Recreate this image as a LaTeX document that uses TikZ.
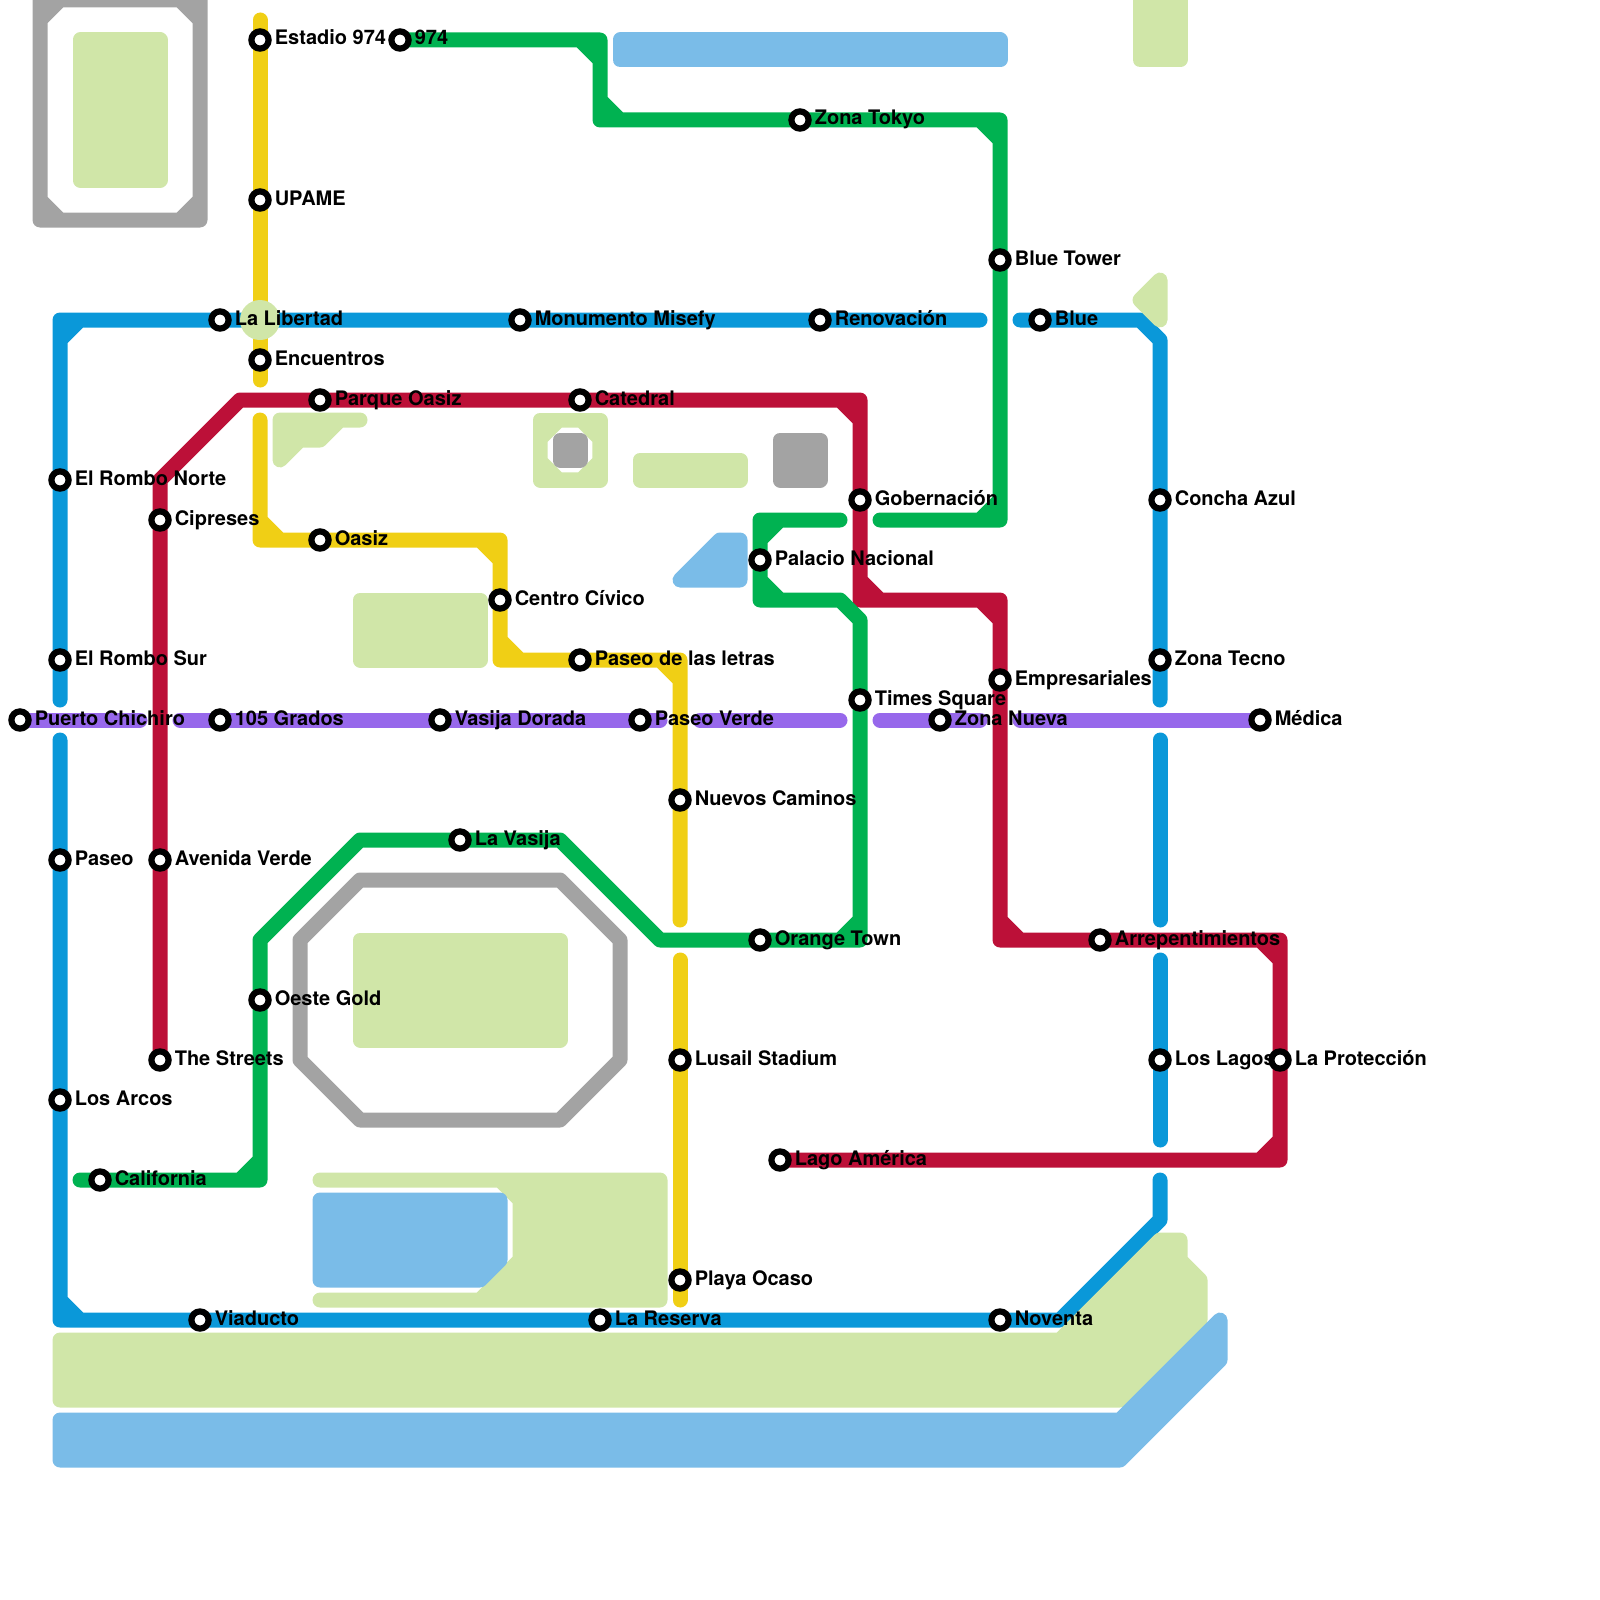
\documentclass[tikz,border=0pt]{standalone}
\usepackage{fontspec}
\setmainfont{TeX Gyre Heros}
\usepackage{xcolor}
\usepackage{tikz}
\definecolor{lineblue}{HTML}{0A98D9}
\definecolor{linepurple}{HTML}{9768EB}
\definecolor{lineyellow}{HTML}{F0CF15}
\definecolor{linegreen}{HTML}{00B251}
\definecolor{linered}{HTML}{BC1038}
\definecolor{stadiumgrey}{HTML}{A3A3A3}
\definecolor{parkgreen}{HTML}{D0E6A8}
\definecolor{lakeblue}{HTML}{7ABCE8}
\tikzset{
  metro/.style={line width=7.5pt, line cap=round, line join=round},
  park/.style={fill=parkgreen, draw=parkgreen, line width=7.5pt, line join=round},
  lake/.style={fill=lakeblue, draw=lakeblue, line width=7.5pt, line join=round},
  stadium/.style={draw=stadiumgrey, line width=7.5pt, line join=round},
  stn/.style={circle, draw=black, fill=white, line width=3.1pt, inner sep=0pt, minimum size=8.6pt},
  stnlabel/.style={anchor=base west, inner sep=0pt, font=\fontsize{10}{12}\selectfont\bfseries}
}
\newcommand{\stationlist}{%
  rombon/3/24/El Rombo Norte, rombos/3/33/El Rombo Sur, paseo/3/43/Paseo, arcos/3/55/Los Arcos,
  libertad/11/16/La Libertad, misefy/26/16/Monumento Misefy, renovacion/41/16/Renovación,
  blue/52/16/Blue, concha/58/25/Concha Azul, tecno/58/33/Zona Tecno, lagos/58/53/Los Lagos,
  noventa/50/66/Noventa, reserva/30/66/La Reserva, viaducto/10/66/Viaducto,
  chichiro/1/36/Puerto Chichiro, grados/11/36/105 Grados, dorada/22/36/Vasija Dorada,
  pverde/32/36/Paseo Verde, znueva/47/36/Zona Nueva, medica/63/36/Médica,
  estadio/13/2/Estadio 974, upame/13/10/UPAME, encuentros/13/18/Encuentros,
  oasiz/16/27/Oasiz, civico/25/30/Centro Cívico, letras/29/33/Paseo de las letras,
  caminos/34/40/Nuevos Caminos, lusail/34/53/Lusail Stadium, ocaso/34/64/Playa Ocaso,
  snueve/20/2/974, tokyo/40/6/Zona Tokyo, tower/50/13/Blue Tower, palacio/38/28/Palacio Nacional,
  times/43/35/Times Square, orange/38/47/Orange Town, vasija/23/42/La Vasija,
  oeste/13/50/Oeste Gold, california/5/59/California,
  cipreses/8/26/Cipreses, averde/8/43/Avenida Verde, streets/8/53/The Streets,
  poasiz/16/20/Parque Oasiz, catedral/29/20/Catedral, gobernacion/43/25/Gobernación,
  empresa/50/34/Empresariales, arrep/55/47/Arrepentimientos, proteccion/64/53/La Protección,
  lago/39/58/Lago América}
\begin{document}
\begin{tikzpicture}[x=10pt, y=-10pt]
  \useasboundingbox (0,0) rectangle (80,80);

  % Station positions
  \foreach \nm/\px/\py/\txt in \stationlist {
    \coordinate (\nm) at (\px,\py);
  }
  % Line ends and corners
  \foreach \nm/\px/\py in {b1/3/35, bc1/3/16, b2/49/16, b3/51/16, bc2/57/16, bc3/58/17, b4/58/35,
      b5/58/37, b6/58/46, b7/58/48, b8/58/57, b9/58/59, bc4/58/61, bc5/53/66, bc6/3/66, b10/3/37,
      p1/7/36, p2/9/36, p3/33/36, p4/35/36, p5/42/36, p6/44/36, p7/49/36, p8/51/36,
      y1/13/1, y2/13/19, y3/13/21, yc1/13/27, yc2/25/27, yc3/25/33, yc4/34/33, y4/34/46, y5/34/48, y6/34/65,
      gc1/30/2, gc2/30/6, gc3/50/6, gc4/50/26, g1/44/26, g2/42/26, gc5/38/26, gc6/38/30, gc7/42/30,
      gc8/43/31, gc9/43/47, gc10/33/47, gc11/28/42, gc12/18/42, gc13/13/47, gc14/13/59, g3/4/59,
      rc1/8/24, rc2/12/20, rc3/43/20, rc4/43/30, rc5/50/30, rc6/50/47, rc7/64/47, rc8/64/58} {
    \coordinate (\nm) at (\px,\py);
  }

  % Yellow line
  \draw[metro, lineyellow] (y1) -- (y2);
  \draw[metro, lineyellow] (y3) -- (yc1) -- (yc2) -- (yc3) -- (yc4) -- (y4)
    (yc1) +(0,-1) -- +(1,0) (yc2) +(-1,0) -- +(0,1) (yc3) +(0,-1) -- +(1,0) (yc4) +(-1,0) -- +(0,1);
  \draw[metro, lineyellow] (y5) -- (y6);

  % Purple line
  \foreach \a/\b in {chichiro/p1, p2/p3, p4/p5, p6/p7, p8/medica} {
    \draw[metro, linepurple] (\a) -- (\b);
  }

  % Blue line
  \draw[metro, lineblue] (b1) -- (bc1) -- (b2) (bc1) +(0,1) -- +(1,0);
  \draw[metro, lineblue] (b3) -- (bc2) -- (bc3) -- (b4);
  \draw[metro, lineblue] (b5) -- (b6);
  \draw[metro, lineblue] (b7) -- (b8);
  \draw[metro, lineblue] (b9) -- (bc4) -- (bc5) -- (bc6) -- (b10) (bc6) +(0,-1) -- +(1,0);

  % Red line
  \draw[metro, linered] (streets) -- (rc1) -- (rc2) -- (rc3) -- (rc4) -- (rc5) -- (rc6) -- (rc7) -- (rc8) -- (lago)
    (rc3) +(-1,0) -- +(0,1) (rc4) +(0,-1) -- +(1,0) (rc5) +(-1,0) -- +(0,1)
    (rc6) +(0,-1) -- +(1,0) (rc7) +(-1,0) -- +(0,1) (rc8) +(0,-1) -- +(-1,0);

  % Green line
  \draw[metro, linegreen] (snueve) -- (gc1) -- (gc2) -- (gc3) -- (gc4) -- (g1)
    (gc1) +(-1,0) -- +(0,1) (gc2) +(0,-1) -- +(1,0) (gc3) +(-1,0) -- +(0,1) (gc4) +(0,-1) -- +(-1,0);
  \draw[metro, linegreen] (g2) -- (gc5) -- (gc6) -- (gc7) -- (gc8) -- (gc9) -- (gc10) -- (gc11)
    -- (gc12) -- (gc13) -- (gc14) -- (g3)
    (gc5) +(0,1) -- +(1,0) (gc6) +(0,-1) -- +(1,0) (gc9) +(0,-1) -- +(-1,0) (gc14) +(0,-1) -- +(-1,0);

  % Stadiums
  \draw[stadium] (2,0) rectangle (10,11)
    (2,1) -- (3,0) (9,0) -- (10,1) (2,10) -- (3,11) (9,11) -- (10,10);
  \draw[stadium] (15,47) -- (18,44) -- (28,44) -- (31,47) -- (31,53) -- (28,56) -- (18,56) -- (15,53) -- cycle;

  % Parks
  \filldraw[park] (4,2) rectangle (8,9);
  \filldraw[park] (57,-1) rectangle (59,3);
  \filldraw[park] (57,15) -- (58,14) -- (58,16) -- cycle;
  \filldraw[park] (14,21) -- (18,21) -- (17,21) -- (16,22) -- (15,22) -- (14,23) -- cycle;
  \filldraw[park] (27,21) rectangle (30,24);
  \fill[white] (27.385,22.1) -- (28.1,21.385) -- (28.9,21.385) -- (29.615,22.1) -- (29.615,22.9)
    -- (28.9,23.615) -- (28.1,23.615) -- (27.385,22.9) -- cycle;
  \filldraw[park] (32,23) rectangle (37,24);
  \filldraw[park] (18,30) rectangle (24,33);
  \filldraw[park] (18,47) rectangle (28,52);
  \filldraw[park] (16,59) -- (33,59) -- (33,65) -- (16,65) -- (24,65) -- (26,63) -- (26,60) -- (25,59) -- cycle;
  \filldraw[park] (3,67) -- (53,67) -- (58,62) -- (59,62) -- (59,63) -- (60,64) -- (60,66) -- (56,70) -- (3,70) -- cycle;
  \fill[parkgreen] (13,16) circle (1);

  % Grey blocks
  \filldraw[stadium, fill=stadiumgrey] (28,22) rectangle (29,23);
  \filldraw[stadium, fill=stadiumgrey] (39,22) rectangle (41,24);

  % Lakes
  \filldraw[lake] (31,2) rectangle (50,3);
  \filldraw[lake] (34,29) -- (36,27) -- (37,27) -- (37,29) -- cycle;
  \filldraw[lake] (16,60) -- (25,60) -- (25,63) -- (24,64) -- (16,64) -- cycle;
  \filldraw[lake] (3,71) -- (56,71) -- (61,66) -- (61,68) -- (56,73) -- (3,73) -- cycle;

  % Stations
  \foreach \nm/\px/\py/\txt in \stationlist {
    \node[stn] (st-\nm) at (\nm) {};
    \node[stnlabel] (lb-\nm) at ([shift={(0.72,0.25)}]\nm) {\txt};
  }
\end{tikzpicture}
\end{document}
